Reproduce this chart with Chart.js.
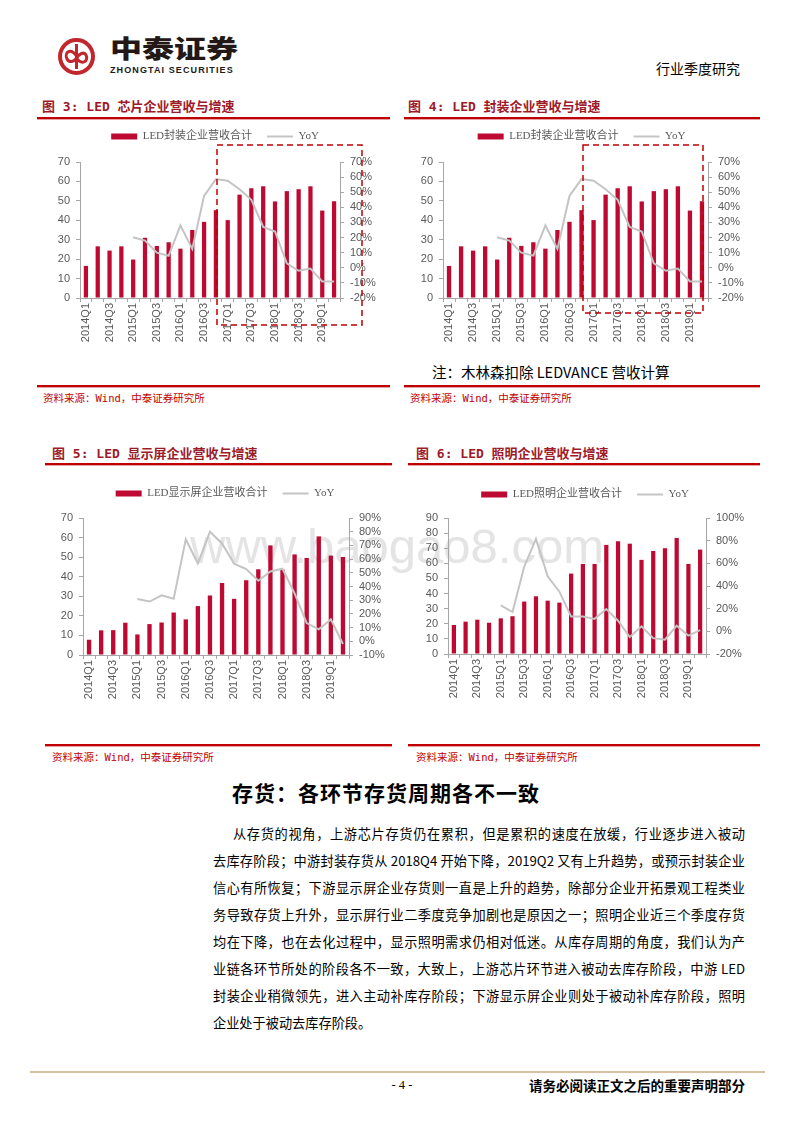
<!DOCTYPE html>
<html lang="zh-CN">
<head>
<meta charset="utf-8">
<title>LED 企业营收与增速</title>
<script src="https://cdn.jsdelivr.net/npm/chart.js@4.4.1/dist/chart.umd.min.js"></script>
<style>
  html, body { margin: 0; padding: 0; background: #fff; }
  #pagina { position: relative; width: 800px; height: 1132px; overflow: hidden; font-family: "Noto Sans CJK SC", sans-serif; color: #000; }
  canvas { position: absolute; z-index: 2; }
  .marca { position: absolute; left: 190px; top: 516px; font-family: "Liberation Sans", sans-serif; font-size: 49px; line-height: 60px; color: #e4e4e4; white-space: pre; z-index: 1; }
  .titulo-fig { position: absolute; font-family: "DejaVu Sans Mono", "Noto Sans CJK SC", monospace; font-weight: bold; font-size: 13px; line-height: 14px; color: #9e1b2a; white-space: pre; }
  .regla { position: absolute; height: 2px; background: #c00000; box-shadow: 0 1px 0 #e9a0a0; }
  .fuente { position: absolute; font-family: "DejaVu Sans Mono", "Noto Sans CJK SC", monospace; font-size: 10.5px; line-height: 12px; color: #c00000; white-space: pre; }
  .nota { position: absolute; left: 432px; top: 363px; font-size: 14.5px; line-height: 18px; white-space: pre; }
  .encabezado { position: absolute; right: 60px; top: 60px; font-size: 14px; line-height: 16px; }
  .logo-txt { position: absolute; left: 110px; top: 33px; font-size: 25px; line-height: 28px; font-weight: 900; color: #231815; transform: scaleX(1.28); transform-origin: left top; white-space: pre; }
  .logo-en { position: absolute; left: 110px; top: 65px; font-family: "Liberation Sans", sans-serif; font-weight: bold; font-size: 9px; line-height: 10px; letter-spacing: 1.1px; color: #231815; white-space: pre; }
  .seccion { position: absolute; left: 232px; top: 781px; font-size: 21px; line-height: 22px; font-weight: bold; letter-spacing: 1px; white-space: pre; }
  .parrafo { position: absolute; left: 213px; top: 819.5px; width: 532px; font-size: 13.2px; line-height: 27.1px; }
  .parrafo div { height: 27.1px; overflow: hidden; text-align: justify; text-align-last: justify; }
  .parrafo div.primera { padding-left: 20px; }
  .parrafo div.ultima { text-align-last: left; }
  .pie-linea { position: absolute; left: 30px; top: 1071px; width: 735px; height: 1.5px; background: #d9c0a0; }
  .pie-num { position: absolute; left: 380px; width: 44px; top: 1078px; text-align: center; font-family: "Liberation Serif", serif; font-size: 12.5px; line-height: 14px; }
  .pie-aviso { position: absolute; right: 55px; top: 1077px; font-size: 13.5px; line-height: 16px; font-weight: bold; white-space: pre; }
  svg { position: absolute; }
</style>
</head>
<body>
<div id="pagina">
  <!-- Cabecera -->
  <svg style="left:55px;top:35px;z-index:3" width="44" height="44" viewBox="0 0 44 44">
    <circle cx="21.5" cy="21.5" r="16.5" fill="none" stroke="#c1272d" stroke-width="4"/>
    <path d="M21.5 9 L21.5 34" stroke="#c1272d" stroke-width="3"/>
    <path d="M21.5 21 C 15 12, 9 18, 12 24 C 14 28, 19 27, 21.5 23 C 24 19, 29 16, 31 20 C 34 26, 27 31, 21.5 23" fill="none" stroke="#c1272d" stroke-width="3"/>
  </svg>
  <div class="logo-txt">中泰证券</div>
  <div class="logo-en">ZHONGTAI SECURITIES</div>
  <div class="encabezado">行业季度研究</div>

  <!-- Títulos y reglas -->
  <div class="titulo-fig" style="left:42px;top:100px">图 3: LED 芯片企业营收与增速</div>
  <div class="titulo-fig" style="left:408px;top:100px">图 4: LED 封装企业营收与增速</div>
  <div class="regla" style="left:37px;top:117px;width:353px"></div>
  <div class="regla" style="left:404px;top:117px;width:356px"></div>
  <div class="nota">注：木林森扣除 LEDVANCE 营收计算</div>
  <div class="regla" style="left:37px;top:385px;width:353px"></div>
  <div class="regla" style="left:404px;top:385px;width:356px"></div>
  <div class="fuente" style="left:43px;top:392px">资料来源：Wind，中泰证券研究所</div>
  <div class="fuente" style="left:410px;top:392px">资料来源：Wind，中泰证券研究所</div>

  <div class="titulo-fig" style="left:52px;top:447px">图 5: LED 显示屏企业营收与增速</div>
  <div class="titulo-fig" style="left:416px;top:447px">图 6: LED 照明企业营收与增速</div>
  <div class="regla" style="left:45px;top:463px;width:347px"></div>
  <div class="regla" style="left:408px;top:463px;width:352px"></div>
  <div class="regla" style="left:45px;top:744px;width:347px"></div>
  <div class="regla" style="left:408px;top:744px;width:352px"></div>
  <div class="fuente" style="left:52px;top:751px">资料来源：Wind，中泰证券研究所</div>
  <div class="fuente" style="left:416px;top:751px">资料来源：Wind，中泰证券研究所</div>

  <div class="marca">www.baogao8.com</div>

  <canvas id="grafica3" width="350" height="228" style="left:40px;top:116px"></canvas>
  <canvas id="grafica4" width="357" height="228" style="left:403px;top:116px"></canvas>
  <canvas id="grafica5" width="360" height="228" style="left:45px;top:473px"></canvas>
  <canvas id="grafica6" width="350" height="226" style="left:410px;top:474px"></canvas>

  <!-- Recuadros punteados -->
  <svg style="left:0;top:0;z-index:3" width="800" height="400">
    <rect x="217" y="145" width="145" height="180" fill="none" stroke="#c00000" stroke-width="1.5" stroke-dasharray="6 4"/>
    <rect x="583" y="145" width="120" height="168" fill="none" stroke="#c00000" stroke-width="1.5" stroke-dasharray="6 4"/>
  </svg>

  <!-- Texto -->
  <div class="seccion">存货：各环节存货周期各不一致</div>
  <div class="parrafo">
    <div class="primera">从存货的视角，上游芯片存货仍在累积，但是累积的速度在放缓，行业逐步进入被动</div>
    <div>去库存阶段；中游封装存货从 2018Q4 开始下降，2019Q2 又有上升趋势，或预示封装企业</div>
    <div>信心有所恢复；下游显示屏企业存货则一直是上升的趋势，除部分企业开拓景观工程类业</div>
    <div>务导致存货上升外，显示屏行业二季度竞争加剧也是原因之一；照明企业近三个季度存货</div>
    <div>均在下降，也在去化过程中，显示照明需求仍相对低迷。从库存周期的角度，我们认为产</div>
    <div>业链各环节所处的阶段各不一致，大致上，上游芯片环节进入被动去库存阶段，中游 LED</div>
    <div>封装企业稍微领先，进入主动补库存阶段；下游显示屏企业则处于被动补库存阶段，照明</div>
    <div class="ultima">企业处于被动去库存阶段。</div>
  </div>

  <div class="pie-linea"></div>
  <div class="pie-num">- 4 -</div>
  <div class="pie-aviso">请务必阅读正文之后的重要声明部分</div>
</div>

<script>
'use strict'
//Datos

//Trimestres del eje X
const trimestres = ['2014Q1', '2014Q2', '2014Q3', '2014Q4', '2015Q1', '2015Q2', '2015Q3', '2015Q4',
    '2016Q1', '2016Q2', '2016Q3', '2016Q4', '2017Q1', '2017Q2', '2017Q3', '2017Q4',
    '2018Q1', '2018Q2', '2018Q3', '2018Q4', '2019Q1', '2019Q2'];

//Encapsulado (figuras 3 y 4 muestran la misma serie)
const ingresosEncapsulado = [16.5, 26.6, 24.4, 26.6, 19.8, 31.0, 26.8, 28.7, 25.4, 35.0, 39.2, 45.2,
    40.1, 53.2, 56.5, 57.5, 49.7, 55.0, 56.0, 57.5, 45.0, 49.8];
const yoyEncapsulado = [null, null, null, null, 20.2, 18.0, 10.0, 8.0, 28.0, 12.5, 47.5, 58.7,
    57.6, 52.0, 45.0, 27.0, 24.0, 3.0, -2.0, -0.5, -9.0, -9.0];

//Pantallas
const ingresosPantalla = [7.8, 12.6, 12.7, 16.5, 10.5, 15.8, 16.6, 21.7, 18.2, 25.0, 30.4, 36.8,
    28.7, 38.2, 43.8, 56.0, 43.6, 51.4, 49.6, 60.6, 50.8, 50.1];
const yoyPantalla = [null, null, null, null, 30.8, 29.0, 33.5, 31.0, 74.5, 56.8, 80.0, 71.4,
    56.6, 52.7, 44.2, 51.0, 53.0, 35.0, 13.3, 8.7, 16.0, -2.0];

//Iluminación
const ingresosIluminacion = [19.2, 21.4, 22.7, 20.7, 23.6, 25.0, 34.7, 38.2, 35.3, 34.0, 53.2, 59.6,
    59.6, 72.2, 74.6, 73.0, 62.3, 68.2, 70.0, 76.8, 59.6, 69.1];
const yoyIluminacion = [null, null, null, null, 23.0, 17.0, 57.0, 81.5, 48.5, 35.0, 13.0, 13.0,
    11.0, 19.7, 9.4, -5.0, 4.4, -6.0, -7.4, 5.0, -3.8, 1.0];

//Colores y fuentes
const rojo = '#be0a32';
const gris = '#c4c4c4';
const grisEje = '#a6a6a6';
const grisTexto = '#595959';
const fuenteEjes = { family: '"Liberation Sans", Arial, sans-serif', size: 11 };
const fuenteLeyenda = { family: '"Liberation Serif", "Noto Sans CJK SC", serif', size: 11 };

//Plugin para dejar más espacio entre la leyenda y el área de la gráfica
function huecoLeyenda(extra) {
    return {
        id: 'huecoLeyenda',
        beforeInit(chart) {
            const fitOriginal = chart.legend.fit;
            chart.legend.fit = function () {
                fitOriginal.call(this);
                this.height += extra;
            };
        }
    };
}

function generarGrafica(idCanvas, etiquetaBarra, barras, yoy, ejes) {
    const ctx = document.getElementById(idCanvas).getContext('2d');
    return new Chart(ctx, {
        type: 'bar',
        data: {
            labels: trimestres,
            datasets: [{
                type: 'bar',
                label: etiquetaBarra,
                data: barras,
                backgroundColor: rojo,
                borderWidth: 0,
                barPercentage: 0.36,
                categoryPercentage: 1,
                yAxisID: 'y',
                order: 1,
                pointStyle: 'rect'
            }, {
                type: 'line',
                label: 'YoY',
                data: yoy,
                borderColor: gris,
                backgroundColor: gris,
                borderWidth: 2,
                pointRadius: 0,
                tension: 0,
                yAxisID: 'y1',
                order: 0,
                pointStyle: 'line'
            }]
        },
        options: {
            responsive: false,
            animation: false,
            layout: { padding: 0 },
            plugins: {
                legend: {
                    position: 'top',
                    labels: {
                        usePointStyle: true,
                        pointStyleWidth: 26,
                        boxHeight: 6,
                        padding: 15,
                        color: grisTexto,
                        font: fuenteLeyenda,
                        sort: (a, b) => a.datasetIndex - b.datasetIndex
                    }
                },
                tooltip: { enabled: false }
            },
            scales: {
                x: {
                    offset: true,
                    grid: { display: true, drawOnChartArea: false, tickLength: 4, color: grisEje, offset: true },
                    border: { display: true, color: grisEje },
                    ticks: {
                        autoSkip: false,
                        maxRotation: 90,
                        minRotation: 90,
                        padding: 1,
                        color: grisTexto,
                        font: fuenteEjes,
                        callback: function (valor, i) {
                            return i % 2 === 0 ? this.getLabelForValue(valor) : '';
                        }
                    },
                    afterFit: escala => { escala.height = 46; }
                },
                y: {
                    position: 'left',
                    min: 0,
                    max: ejes.yMax,
                    grid: { drawOnChartArea: false, tickLength: 4, color: grisEje },
                    border: { color: grisEje },
                    ticks: { stepSize: 10, autoSkip: false, padding: 6, color: grisTexto, font: fuenteEjes },
                    afterFit: escala => { escala.width = ejes.anchoIzq; }
                },
                y1: {
                    position: 'right',
                    min: ejes.y1Min,
                    max: ejes.y1Max,
                    grid: { drawOnChartArea: false, tickLength: 4, color: grisEje },
                    border: { color: grisEje },
                    ticks: {
                        stepSize: ejes.y1Paso,
                        autoSkip: false,
                        padding: 6,
                        color: grisTexto,
                        font: fuenteEjes,
                        callback: valor => valor + '%'
                    },
                    afterFit: escala => { escala.width = ejes.anchoDer; }
                }
            }
        },
        plugins: [huecoLeyenda(ejes.extra)]
    });
}

generarGrafica('grafica3', 'LED封装企业营收合计', ingresosEncapsulado, yoyEncapsulado,
    { yMax: 70, y1Min: -20, y1Max: 70, y1Paso: 10, anchoIzq: 40, anchoDer: 50, extra: 10 });
generarGrafica('grafica4', 'LED封装企业营收合计', ingresosEncapsulado, yoyEncapsulado,
    { yMax: 70, y1Min: -20, y1Max: 70, y1Paso: 10, anchoIzq: 40, anchoDer: 52, extra: 10 });
generarGrafica('grafica5', 'LED显示屏企业营收合计', ingresosPantalla, yoyPantalla,
    { yMax: 70, y1Min: -10, y1Max: 90, y1Paso: 10, anchoIzq: 38, anchoDer: 56, extra: 9 });
generarGrafica('grafica6', 'LED照明企业营收合计', ingresosIluminacion, yoyIluminacion,
    { yMax: 90, y1Min: -20, y1Max: 100, y1Paso: 20, anchoIzq: 38, anchoDer: 54, extra: 8 });
</script>
</body>
</html>
